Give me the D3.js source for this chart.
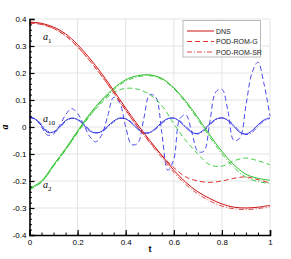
<!DOCTYPE html>
<html><head><meta charset="utf-8">
<script src="https://cdn.jsdelivr.net/npm/d3@7"></script>
<style>
html,body{margin:0;padding:0;background:#fff;}
svg{display:block;font-family:"Liberation Sans",Arial,sans-serif;}
</style></head>
<body>
<svg id="chart" width="291" height="259"></svg>
<script>
// time grids
const tCoarse = [0,0.05,0.1,0.15,0.2,0.25,0.3,0.35,0.4,0.45,0.5,0.55,0.6,0.65,0.7,0.75,0.8,0.85,0.9,0.95,1.0];
const tFine = [0,0.025,0.05,0.075,0.1,0.125,0.15,0.175,0.2,0.225,0.25,0.275,0.3,0.325,0.35,0.375,0.4,0.425,0.45,0.475,0.5,0.525,0.55,0.575,0.6,0.625,0.65,0.675,0.7,0.725,0.75,0.775,0.8,0.825,0.85,0.875,0.9,0.925,0.95,0.975,1.0];

// a1 (red)
const a1DNS = [0.388,0.384,0.370,0.345,0.305,0.255,0.198,0.135,0.070,0.008,-0.050,-0.105,-0.160,-0.205,-0.240,-0.265,-0.285,-0.297,-0.300,-0.297,-0.290];
const a1G   = [0.385,0.380,0.365,0.338,0.297,0.246,0.189,0.127,0.062,0.000,-0.055,-0.105,-0.150,-0.185,-0.200,-0.205,-0.200,-0.190,-0.185,-0.195,-0.207];
const a1SR  = [0.385,0.380,0.365,0.338,0.297,0.246,0.189,0.127,0.062,0.000,-0.058,-0.113,-0.168,-0.213,-0.248,-0.274,-0.293,-0.303,-0.306,-0.302,-0.295];
// a2 (green)
const a2DNS = [-0.228,-0.200,-0.140,-0.080,-0.015,0.048,0.100,0.143,0.175,0.190,0.193,0.180,0.145,0.095,0.035,-0.030,-0.090,-0.140,-0.175,-0.190,-0.197];
const a2G   = [-0.232,-0.204,-0.145,-0.085,-0.020,0.040,0.090,0.128,0.143,0.140,0.120,0.080,0.012,-0.050,-0.100,-0.140,-0.145,-0.125,-0.115,-0.125,-0.140];
const a2SR  = [-0.232,-0.204,-0.145,-0.085,-0.021,0.042,0.094,0.138,0.170,0.186,0.190,0.177,0.142,0.090,0.028,-0.038,-0.099,-0.150,-0.186,-0.202,-0.209];
// a10 (blue)
const a10DNS = [0.036,0.028,0.005,-0.020,-0.018,0.000,0.024,0.033,0.027,0.008,-0.014,-0.022,-0.016,0.003,0.022,0.033,0.030,0.014,-0.008,-0.022,-0.020,-0.004,0.017,0.031,0.033,0.020,-0.002,-0.020,-0.024,-0.010,0.012,0.029,0.034,0.024,0.002,-0.020,-0.026,-0.014,0.008,0.026,0.034];
const a10G   = [0.036,0.030,0.000,-0.030,-0.025,0.005,0.045,0.068,0.050,0.010,-0.035,-0.055,-0.030,0.040,0.110,0.090,0.000,-0.065,-0.060,0.030,0.120,0.110,-0.020,-0.160,-0.120,0.030,0.045,-0.020,-0.090,-0.090,0.020,0.130,0.140,0.060,-0.050,-0.040,0.080,0.200,0.240,0.160,0.040];
const a10SR  = [0.034,0.030,0.010,-0.015,-0.020,-0.004,0.020,0.032,0.029,0.012,-0.010,-0.021,-0.018,-0.001,0.019,0.031,0.031,0.017,-0.004,-0.020,-0.022,-0.008,0.013,0.029,0.033,0.023,0.002,-0.017,-0.026,-0.014,0.007,0.026,0.033,0.027,0.007,-0.016,-0.028,-0.020,0.002,0.022,0.032];

const xTicks = [0,0.2,0.4,0.6,0.8,1];
const xTickLabels = ["0","0.2","0.4","0.6","0.8","1"];
const yTicks = [0.4,0.3,0.2,0.1,0,-0.1,-0.2,-0.3,-0.4];
const yTickLabels = ["0.4","0.3","0.2","0.1","0","-0.1","-0.2","-0.3","-0.4"];
const legendLabels = ["DNS","POD-ROM-G","POD-ROM-SR"];

const svg = d3.select("#chart");
const L = 29.5, R = 270, T = 19, B = 235;
const x = d3.scaleLinear().domain([0,1]).range([L,R]);
const y = d3.scaleLinear().domain([-0.4,0.4]).range([B,T]);

// grid
const grid = svg.append("g").attr("stroke","#e4e4e4").attr("stroke-width",1);
xTicks.forEach(v=>{ if(v>0) grid.append("line").attr("x1",x(v)).attr("x2",x(v)).attr("y1",T).attr("y2",B); });
yTicks.forEach(v=>{ if(v>-0.4) grid.append("line").attr("x1",L).attr("x2",R).attr("y1",y(v)).attr("y2",y(v)); });

const styles = {
  DNS: {dash:null},
  G: {dash:"5,3"},
  SR: {dash:"5,2,1,2"}
};
const colors = {
  red:  {DNS:"#cc1111", G:"#e03333", SR:"#e04a4a"},
  green:{DNS:"#22c022", G:"#44d044", SR:"#44c844"},
  blue: {DNS:"#3030e0", G:"#4a4af0", SR:"#5a5ae8"}
};
function draw(ts, vals, color, kind){
  const line = d3.line().x((d,i)=>x(ts[i])).y(d=>y(d)).curve(d3.curveCatmullRom.alpha(0.5));
  svg.append("path").datum(vals).attr("d",line).attr("fill","none")
    .attr("stroke",color).attr("stroke-width",1)
    .attr("stroke-dasharray",styles[kind].dash);
}
draw(tFine,a10SR,colors.blue.SR,"SR");
draw(tFine,a10G,colors.blue.G,"G");
draw(tFine,a10DNS,colors.blue.DNS,"DNS");
draw(tCoarse,a2SR,colors.green.SR,"SR");
draw(tCoarse,a2G,colors.green.G,"G");
draw(tCoarse,a2DNS,colors.green.DNS,"DNS");
draw(tCoarse,a1SR,colors.red.SR,"SR");
draw(tCoarse,a1G,colors.red.G,"G");
draw(tCoarse,a1DNS,colors.red.DNS,"DNS");

// axes
const xMinor = d3.range(0,1.0001,0.05);
const yMinor = d3.range(-0.4,0.4001,0.02);
svg.append("g").attr("transform",`translate(0,${B})`)
  .call(d3.axisBottom(x).tickValues(xMinor).tickSize(-2.5).tickFormat(""))
  .call(g=>g.select(".domain").remove());
svg.append("g").attr("transform",`translate(${L},0)`)
  .call(d3.axisLeft(y).tickValues(yMinor).tickSize(-2.5).tickFormat(""))
  .call(g=>g.select(".domain").remove());
const xa = svg.append("g").attr("transform",`translate(0,${B})`)
  .call(d3.axisBottom(x).tickValues(xTicks).tickSize(-5).tickPadding(4).tickFormat((d,i)=>xTickLabels[i]));
const ya = svg.append("g").attr("transform",`translate(${L},0)`)
  .call(d3.axisLeft(y).tickValues(yTicks).tickSize(-5).tickPadding(3).tickFormat((d,i)=>yTickLabels[i]));
[xa,ya].forEach(g=>{
  g.select(".domain").attr("stroke","#000").attr("stroke-width",1.6);
  g.selectAll(".tick line").attr("stroke","#000").attr("stroke-width",1.2);
  g.selectAll("text").attr("font-size",8).attr("fill","#000").attr("font-family","Liberation Sans, Arial, sans-serif");
});
svg.selectAll("g .tick line").attr("stroke","#000");

// axis titles
svg.append("text").attr("x",150).attr("y",252).attr("text-anchor","middle")
  .attr("font-size",9).attr("font-weight","bold").attr("font-family","Liberation Sans, Arial, sans-serif").text("t");
svg.append("text").attr("transform","translate(8,127) rotate(-90)").attr("text-anchor","middle")
  .attr("font-size",10).attr("font-weight","bold").attr("font-style","italic").attr("font-family","Liberation Serif, serif").text("a");

// curve labels
function lab(px,py,sub){
  const t = svg.append("text").attr("x",px).attr("y",py).attr("font-family","Liberation Serif, serif").attr("font-style","italic").attr("font-size",10).text("a");
  t.append("tspan").attr("font-size",7).attr("font-style","normal").attr("dy",2.5).text(sub);
}
lab(43,40,"1");
lab(43,122,"10");
lab(43,188,"2");

// legend
const lg = svg.append("g");
lg.append("rect").attr("x",183).attr("y",20.5).attr("width",77.5).attr("height",36.5)
  .attr("fill","#fff").attr("stroke","#aaa").attr("stroke-width",0.8);
["DNS","G","SR"].forEach((k,i)=>{
  const yy = 31 + i*10.5;
  lg.append("line").attr("x1",187).attr("x2",214).attr("y1",yy).attr("y2",yy)
    .attr("stroke",colors.red[k]).attr("stroke-width",1).attr("stroke-dasharray",styles[k].dash);
  lg.append("text").attr("x",216).attr("y",yy+2.5).attr("font-size",7).attr("fill","#222").text(legendLabels[i]);
});
</script>
</body></html>
